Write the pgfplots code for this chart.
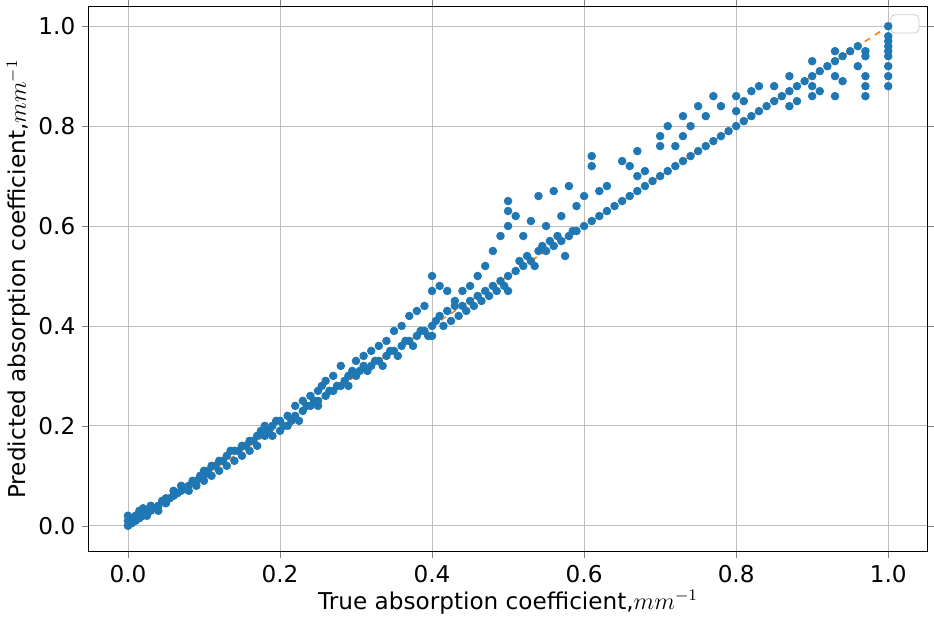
\documentclass[border=0pt]{standalone}
\usepackage{pgfplots}
\pgfplotsset{compat=1.18}
\usepackage{fontspec}
\setmainfont{DejaVu Sans}
\begin{document}
\begin{tikzpicture}
\definecolor{mblue}{HTML}{1F77B4}
\definecolor{morange}{HTML}{FF7F0E}
\begin{axis}[
 scale only axis, width=417pt, height=271pt,
 xmin=-0.052, xmax=1.052, ymin=-0.052, ymax=1.04,
 xtick={0,0.2,...,1.0}, ytick={0,0.2,...,1.0},
 xticklabel style={/pgf/number format/fixed,/pgf/number format/precision=1,/pgf/number format/fixed zerofill},
 yticklabel style={/pgf/number format/fixed,/pgf/number format/precision=1,/pgf/number format/fixed zerofill},
 /pgf/number format/assume math mode=true,
 ticklabel style={font=\fontsize{11.5}{13}\selectfont},
 label style={font=\fontsize{11.5}{13}\selectfont},
 grid=major, grid style={gray!50, line width=0.4pt},
 tick align=outside, major tick length=3pt,
 axis line style={black, line width=0.5pt},
 xlabel={True absorption coefficient,$mm^{-1}$},
 ylabel={Predicted absorption coefficient,$mm^{-1}$},
 xlabel shift=-3pt, ylabel shift=-3pt,
]
\addplot[only marks, mark=*, mark size=1.9pt, color=mblue] coordinates {
(0,0)(0,0.01)(0,0.02)(0.005,0.005)(0.005,0.015)(0.01,0.01)(0.01,0.02)(0.015,0.015)(0.015,0.03)(0.02,0.02)(0.02,0.035)(0.025,0.02)(0.025,0.03)(0.03,0.03)(0.03,0.04)(0.035,0.035)(0.04,0.04)(0.04,0.03)(0.045,0.05)(0.05,0.045)(0.05,0.055)(0.055,0.055)(0.06,0.06)(0.06,0.07)(0.065,0.065)(0.07,0.07)(0.07,0.08)(0.075,0.075)(0.08,0.08)(0.08,0.07)(0.085,0.09)(0.09,0.09)(0.09,0.08)(0.095,0.1)(0.1,0.1)(0.1,0.09)(0.1,0.11)(0.105,0.11)(0.11,0.12)(0.11,0.1)(0.115,0.12)(0.12,0.13)(0.12,0.11)(0.125,0.13)(0.13,0.14)(0.13,0.12)(0.135,0.15)(0.14,0.15)(0.14,0.13)(0.145,0.15)(0.15,0.16)(0.15,0.14)(0.155,0.16)(0.16,0.17)(0.16,0.15)(0.165,0.17)(0.17,0.18)(0.17,0.16)(0.175,0.19)(0.18,0.18)(0.18,0.2)(0.185,0.19)(0.19,0.2)(0.19,0.18)(0.195,0.21)(0.2,0.21)(0.2,0.19)(0.205,0.2)(0.21,0.22)(0.21,0.2)(0.215,0.21)(0.22,0.22)(0.22,0.24)(0.225,0.21)(0.23,0.23)(0.23,0.25)(0.235,0.24)(0.24,0.24)(0.24,0.26)(0.245,0.25)(0.25,0.25)(0.25,0.27)(0.25,0.24)(0.255,0.28)(0.26,0.26)(0.26,0.29)(0.265,0.27)(0.27,0.27)(0.27,0.3)(0.275,0.28)(0.28,0.28)(0.28,0.32)(0.285,0.29)(0.29,0.3)(0.29,0.28)(0.295,0.31)(0.3,0.3)(0.3,0.33)(0.305,0.31)(0.31,0.32)(0.31,0.34)(0.315,0.31)(0.32,0.32)(0.32,0.35)(0.325,0.33)(0.33,0.33)(0.33,0.36)(0.335,0.32)(0.34,0.34)(0.34,0.37)(0.345,0.35)(0.35,0.35)(0.35,0.39)(0.355,0.34)(0.36,0.36)(0.36,0.4)(0.365,0.37)(0.37,0.37)(0.37,0.42)(0.375,0.36)(0.38,0.38)(0.38,0.43)(0.385,0.39)(0.39,0.39)(0.39,0.44)(0.395,0.38)(0.4,0.4)(0.4,0.5)(0.4,0.47)(0.4,0.38)(0.405,0.41)(0.41,0.42)(0.41,0.48)(0.415,0.4)(0.42,0.43)(0.42,0.47)(0.425,0.41)(0.43,0.44)(0.43,0.45)(0.435,0.42)(0.44,0.44)(0.44,0.47)(0.445,0.43)(0.45,0.45)(0.45,0.48)(0.455,0.44)(0.46,0.46)(0.46,0.5)(0.465,0.45)(0.47,0.47)(0.47,0.52)(0.475,0.46)(0.48,0.48)(0.48,0.55)(0.485,0.47)(0.49,0.49)(0.49,0.58)(0.495,0.48)(0.5,0.5)(0.5,0.63)(0.5,0.65)(0.5,0.6)(0.5,0.47)(0.51,0.62)(0.51,0.51)(0.515,0.53)(0.52,0.52)(0.52,0.58)(0.525,0.54)(0.53,0.53)(0.53,0.61)(0.535,0.52)(0.54,0.55)(0.54,0.66)(0.545,0.56)(0.55,0.55)(0.55,0.6)(0.555,0.57)(0.56,0.56)(0.56,0.67)(0.565,0.58)(0.57,0.57)(0.57,0.62)(0.575,0.54)(0.58,0.58)(0.58,0.68)(0.585,0.59)(0.59,0.59)(0.59,0.64)(0.6,0.6)(0.6,0.66)(0.61,0.61)(0.61,0.74)(0.61,0.72)(0.62,0.62)(0.62,0.67)(0.63,0.63)(0.63,0.68)(0.64,0.64)(0.65,0.65)(0.65,0.73)(0.66,0.66)(0.66,0.72)(0.67,0.67)(0.67,0.75)(0.67,0.7)(0.68,0.68)(0.68,0.71)(0.69,0.69)(0.7,0.7)(0.7,0.78)(0.7,0.76)(0.71,0.71)(0.71,0.8)(0.72,0.72)(0.72,0.76)(0.73,0.73)(0.73,0.82)(0.73,0.78)(0.74,0.74)(0.74,0.8)(0.75,0.75)(0.75,0.84)(0.76,0.76)(0.76,0.82)(0.77,0.77)(0.77,0.86)(0.78,0.78)(0.78,0.84)(0.79,0.79)(0.8,0.8)(0.8,0.86)(0.8,0.83)(0.81,0.81)(0.81,0.85)(0.82,0.82)(0.82,0.87)(0.83,0.83)(0.83,0.88)(0.84,0.84)(0.85,0.85)(0.85,0.88)(0.86,0.86)(0.87,0.87)(0.87,0.84)(0.87,0.9)(0.88,0.88)(0.88,0.85)(0.89,0.89)(0.9,0.9)(0.9,0.93)(0.9,0.86)(0.9,0.88)(0.91,0.91)(0.91,0.87)(0.92,0.92)(0.93,0.93)(0.93,0.9)(0.93,0.86)(0.93,0.95)(0.94,0.94)(0.94,0.89)(0.95,0.95)(0.96,0.96)(0.96,0.92)(0.97,0.94)(0.97,0.9)(0.97,0.88)(0.97,0.86)(0.97,0.95)(1,1)(1,0.98)(1,0.96)(1,0.94)(1,0.92)(1,0.9)(1,0.88)(1,0.95)(1,0.97)
};
\addplot[morange, dashed, line width=0.8pt] coordinates {(0,0)(1,1)};
\node[draw=gray!40, rounded corners=2pt, fill=white, minimum width=14pt, minimum height=9pt, anchor=north east] at (rel axis cs:0.99,0.985) {};
\end{axis}
\end{tikzpicture}
\end{document}
